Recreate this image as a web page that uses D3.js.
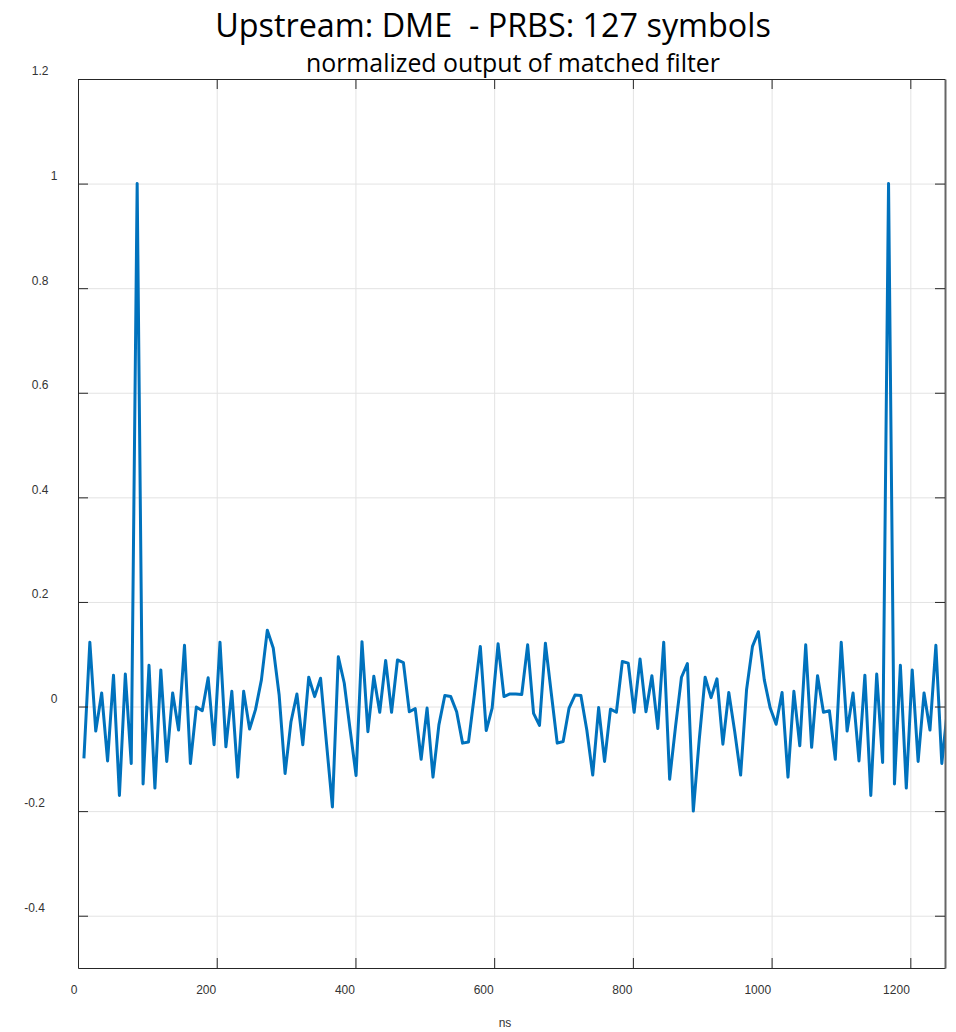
<!doctype html>
<html lang="en">
<head>
  <meta charset="utf-8">
  <title>matched filter output</title>
  <style>
    * { margin: 0; padding: 0; box-sizing: border-box; }
    body { background: #fff; }
    .title { font-family: 'Open Sans', sans-serif; fill: #000; white-space: pre; }
    .tick text { font-family: 'Liberation Sans', Arial, sans-serif; font-size: 12px; fill: #333; }
    .grid line { stroke: #e3e3e3; stroke-width: 1; }
    .grid .domain { display: none; }
  </style>
</head>

<body>
  <div class="chart"></div>
  <script src="https://cdn.jsdelivr.net/npm/d3@7"></script>
  <script>
    // ---------------------------------------------------------------
    //@@ data
    const titleText = 'Upstream: DME  - PRBS: 127 symbols';
    const subtitleText = 'normalized output of matched filter';
    const xLabel = 'ns';

    const xTicks = [0, 200, 400, 600, 800, 1000, 1200];
    const yTicks = [-0.4, -0.2, 0, 0.2, 0.4, 0.6, 0.8, 1, 1.2];
    const xDomain = [0, 1250];
    const yDomain = [-0.5, 1.2];

    // sample spacing in ns (uniform sampling grid, first sample at one step)
    const sampleStepNs = 8.53;

    // normalized output, one value per sample
    const outputValues = [
      -0.099, 0.123, -0.047, 0.026, -0.104, 0.060, -0.170, 0.062, -0.109, 1.000,
      -0.148, 0.079, -0.156, 0.070, -0.105, 0.026, -0.045, 0.117, -0.109, -0.001,
      -0.008, 0.055, -0.073, 0.123, -0.077, 0.029, -0.135, 0.029, -0.043, -0.006,
      0.051, 0.146, 0.112, 0.022, -0.128, -0.029, 0.024, -0.073, 0.056, 0.019,
      0.054, -0.070, -0.192, 0.095, 0.045, -0.045, -0.132, 0.124, -0.048, 0.058,
      -0.011, 0.088, -0.011, 0.089, 0.084, -0.010, -0.004, -0.101, -0.003, -0.135,
      -0.035, 0.021, 0.019, -0.010, -0.070, -0.068, 0.022, 0.115, -0.046, -0.003,
      0.120, 0.019, 0.024, 0.024, 0.023, 0.118, -0.013, -0.036, 0.121, 0.025,
      -0.070, -0.067, -0.003, 0.022, 0.021, -0.045, -0.131, -0.002, -0.105, -0.005,
      -0.011, 0.086, 0.083, -0.011, 0.091, -0.010, 0.059, -0.042, 0.123, -0.139,
      -0.038, 0.056, 0.082, -0.200, -0.064, 0.056, 0.017, 0.053, -0.072, 0.027,
      -0.048, -0.131, 0.032, 0.115, 0.143, 0.051, -0.003, -0.034, 0.027, -0.135,
      0.029, -0.075, 0.118, -0.078, 0.059, -0.011, -0.008, -0.101, 0.123, -0.047,
      0.026, -0.104, 0.060, -0.170, 0.062, -0.107, 1.000, -0.148, 0.079, -0.156,
      0.070, -0.105, 0.026, -0.045, 0.117, -0.109, -0.001
    ];

    const samples = outputValues.map((v, i) => ({t: (i + 1) * sampleStepNs, v}));

    // ---------------------------------------------------------------
    //@@ svg configuration
    const svgDim = {w: 956, h: 1032};
    const svgMarg = {t: 79, r: 11, b: 64, l: 78};
    const stageDim = {
      w: svgDim.w - svgMarg.l - svgMarg.r,
      h: svgDim.h - svgMarg.t - svgMarg.b
    };

    const svg = d3.select('.chart').append('svg')
      .attr('width', svgDim.w)
      .attr('height', svgDim.h);

    const stage = svg.append('g')
      .attr('transform', `translate(${svgMarg.l},${svgMarg.t})`);

    //@@ scales
    const scaleX = d3.scaleLinear().domain(xDomain).range([0, stageDim.w]);
    const scaleY = d3.scaleLinear().domain(yDomain).range([stageDim.h, 0]);

    //@@ grid
    stage.append('g')
      .attr('class', 'grid')
      .attr('transform', `translate(0,${stageDim.h})`)
      .call(d3.axisBottom(scaleX).tickValues(xTicks.filter(d => d > 0)).tickSize(-stageDim.h).tickFormat(''));

    stage.append('g')
      .attr('class', 'grid')
      .call(d3.axisLeft(scaleY).tickValues(yTicks).tickSize(-stageDim.w).tickFormat(''));

    //@@ line
    stage.append('clipPath').attr('id', 'clip')
      .append('rect')
      .attr('width', stageDim.w)
      .attr('height', stageDim.h);

    const line = d3.line().x(d => scaleX(d.t)).y(d => scaleY(d.v));

    stage.append('path')
      .datum(samples)
      .attr('clip-path', 'url(#clip)')
      .attr('d', line)
      .attr('fill', 'none')
      .attr('stroke', '#0072BD')
      .attr('stroke-width', 3)
      .attr('stroke-linejoin', 'round');

    //@@ axes (ticks point inward, box all round)
    const axisStyle = g => {
      g.select('.domain').attr('stroke', '#262626');
      g.selectAll('.tick line').attr('stroke', '#262626');
    };

    const axisX = stage.append('g')
      .attr('transform', `translate(0,${stageDim.h})`)
      .call(d3.axisBottom(scaleX).tickValues(xTicks).tickSizeInner(-10).tickSizeOuter(0)
        .tickPadding(17).tickFormat(d => String(d)))
      .call(axisStyle);
    axisX.selectAll('.tick text').attr('text-anchor', 'end').attr('dx', -1);

    stage.append('g')
      .call(d3.axisTop(scaleX).tickValues(xTicks).tickSizeInner(-10).tickSizeOuter(0).tickFormat(''))
      .call(axisStyle);

    const axisY = stage.append('g')
      .call(d3.axisLeft(scaleY).tickValues(yTicks).tickSizeInner(-10).tickSizeOuter(0).tickFormat(d => String(d)))
      .call(axisStyle);
    axisY.selectAll('.tick text')
      .attr('text-anchor', 'end')
      .attr('y', -8)
      .attr('x', function() {
        const w = this.getComputedTextLength();
        return 63.5 - 0.9 * w - svgMarg.l;
      });

    stage.append('g')
      .attr('transform', `translate(${stageDim.w},0)`)
      .call(d3.axisRight(scaleY).tickValues(yTicks).tickSizeInner(-10).tickSizeOuter(0).tickFormat(''))
      .call(g => {
        axisStyle(g);
        g.select('.domain').attr('stroke', '#666').attr('stroke-width', 2);
      });

    //@@ x label
    svg.append('text')
      .attr('x', 505)
      .attr('y', 1027)
      .attr('text-anchor', 'middle')
      .style('font-family', "'Liberation Sans', Arial, sans-serif")
      .style('font-size', '12px')
      .style('fill', '#333')
      .text(xLabel);

    //@@ titles, sized to the reference width
    const addTitle = (txt, cx, baseline, targetW) => {
      const t = svg.append('text')
        .attr('class', 'title')
        .attr('x', cx)
        .attr('y', baseline)
        .attr('text-anchor', 'middle')
        .style('font-size', '30px')
        .text(txt);
      const w = t.node().getComputedTextLength();
      t.style('font-size', (30 * targetW / w).toFixed(2) + 'px');
    };
    addTitle(titleText, 493, 37, 556);
    addTitle(subtitleText, 513, 72, 414);
  </script>
</body>

</html>
